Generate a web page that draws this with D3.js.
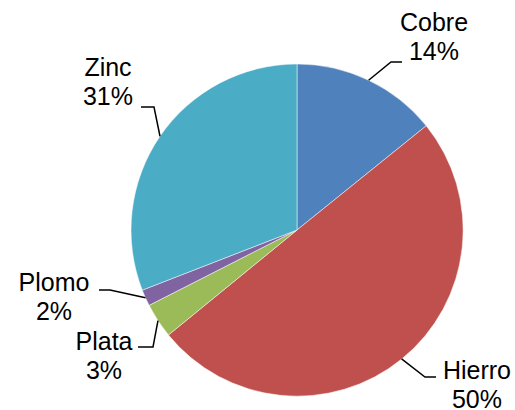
<!DOCTYPE html>
<html>
<head>
<meta charset="utf-8">
<script src="https://cdn.jsdelivr.net/npm/d3@7"></script>
<style>
  html, body { margin: 0; padding: 0; background: #fff; }
  svg { display: block; }
</style>
</head>
<body>
<svg id="chart" width="515" height="410"></svg>
<script>
// ---- data ----
const categories = ["Cobre", "Hierro", "Plata", "Plomo", "Zinc"];
const values = [14.2, 49.9, 3.4, 1.6, 30.9];
const percentLabels = ["14%", "50%", "3%", "2%", "31%"];
const colors = ["#4F81BD", "#C0504D", "#9BBB59", "#8064A2", "#4BACC6"];

// ---- layout (label placement, as in the reference) ----
const cx = 297, cy = 230, radius = 166;
const fontSize = 25, lineGap = 29;
const labelLayout = [
  { tx: 434, ty: 31,  ex: 391, ey: 62,  lx: 402 }, // Cobre
  { tx: 477, ty: 379, ex: 425, ey: 377, lx: 436 }, // Hierro
  { tx: 104, ty: 350, ex: 153, ey: 347, lx: 138 }, // Plata
  { tx: 54,  ty: 291, ex: 110, ey: 290, lx: 99  }, // Plomo
  { tx: 108, ty: 76,  ex: 154, ey: 107, lx: 141 }  // Zinc
];

const data = categories.map((c, i) => ({ name: c, value: values[i], pct: percentLabels[i], color: colors[i], layout: labelLayout[i] }));

const svg = d3.select("#chart");
const g = svg.append("g").attr("transform", `translate(${cx},${cy})`);

const pie = d3.pie().sort(null).value(d => d.value);
const arc = d3.arc().innerRadius(0).outerRadius(radius);
const arcs = pie(data);

g.selectAll("path.slice")
  .data(arcs)
  .enter().append("path")
  .attr("class", "slice")
  .attr("d", arc)
  .attr("fill", d => d.data.color)
  .attr("stroke", "#ffffff")
  .attr("stroke-width", 0.5);

// leader lines: start on the rim at the slice's mid-angle
const leaders = svg.append("g");
arcs.forEach(a => {
  const mid = (a.startAngle + a.endAngle) / 2;
  const sx = cx + radius * Math.sin(mid);
  const sy = cy - radius * Math.cos(mid);
  const L = a.data.layout;
  leaders.append("polyline")
    .attr("points", `${sx},${sy} ${L.ex},${L.ey} ${L.lx},${L.ey}`)
    .attr("fill", "none")
    .attr("stroke", "#000")
    .attr("stroke-width", 1.5);
});

const labels = svg.append("g")
  .attr("font-family", "'Liberation Sans', Arial, sans-serif")
  .attr("font-size", fontSize)
  .attr("fill", "#000")
  .attr("text-anchor", "middle");

arcs.forEach(a => {
  const L = a.data.layout;
  const t = labels.append("text").attr("x", L.tx).attr("y", L.ty);
  t.append("tspan").attr("x", L.tx).attr("y", L.ty).text(a.data.name);
  t.append("tspan").attr("x", L.tx).attr("y", L.ty + lineGap).text(a.data.pct);
});
</script>
</body>
</html>
